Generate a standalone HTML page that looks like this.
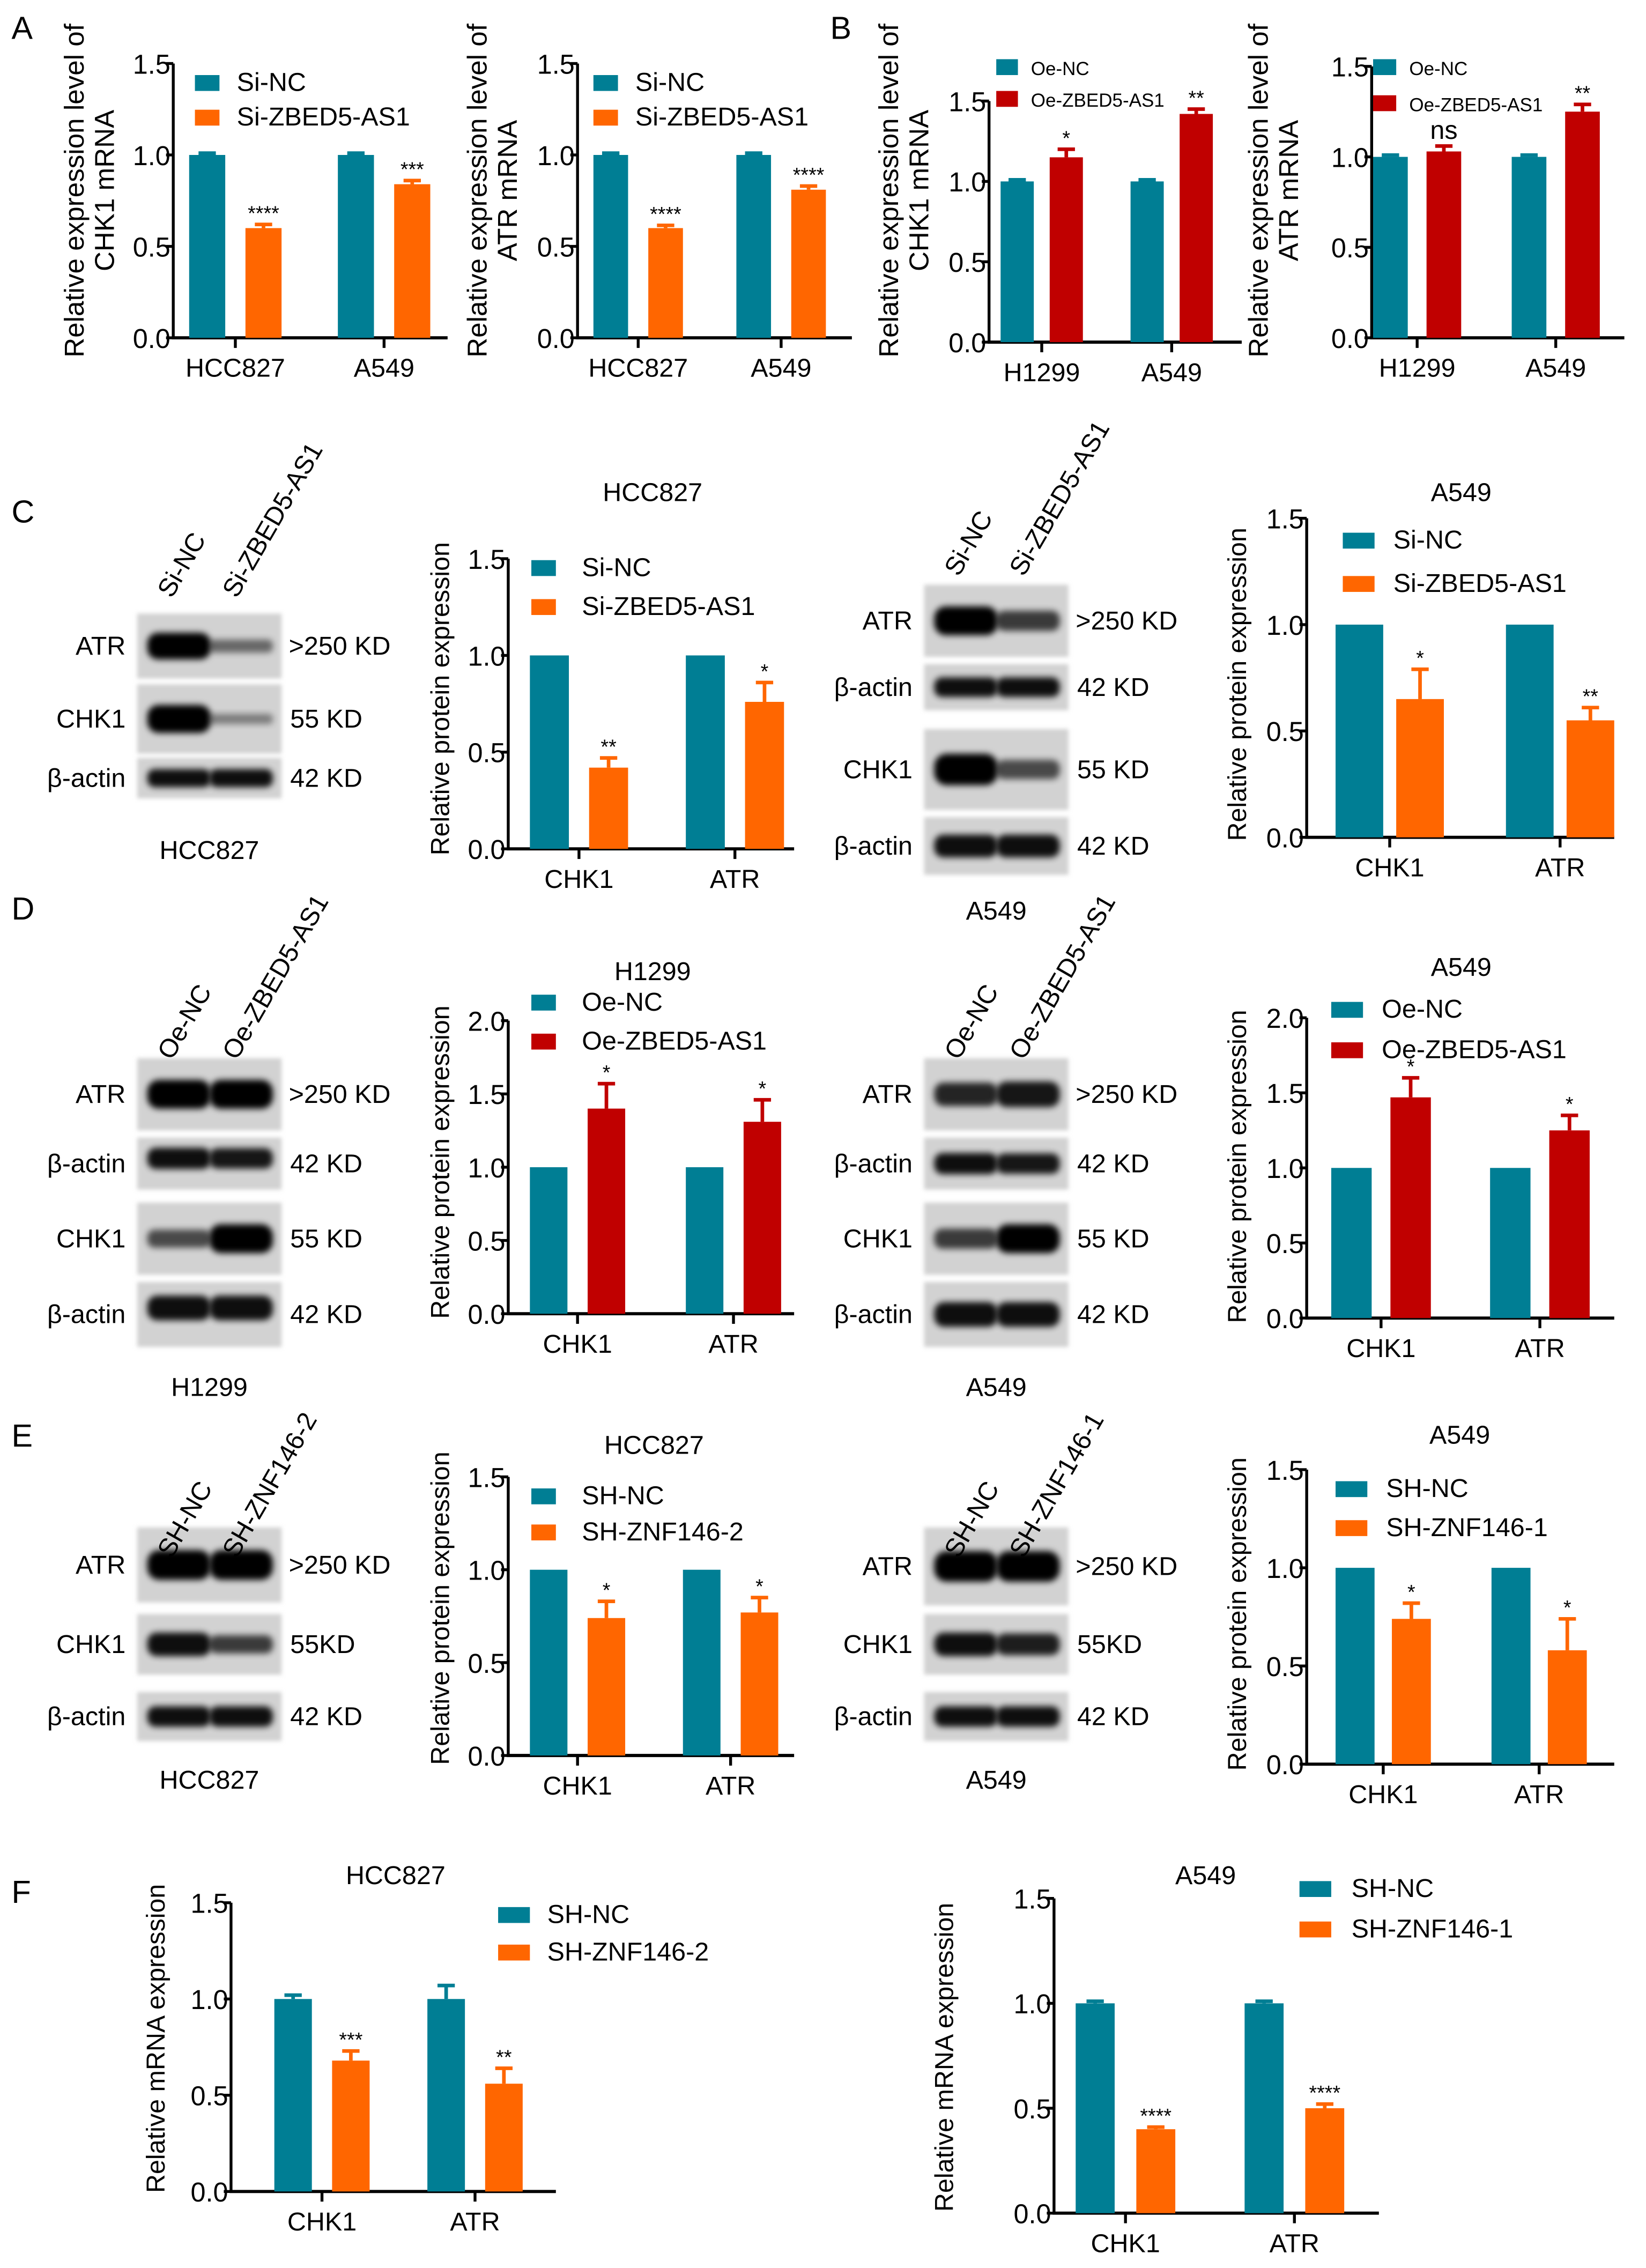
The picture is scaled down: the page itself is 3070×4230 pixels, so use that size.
<!DOCTYPE html>
<html><head><meta charset="utf-8">
<style>
html,body{margin:0;padding:0;background:#fff;}
svg{display:block;font-family:"Liberation Sans",Arial,sans-serif;}
</style></head>
<body>
<svg id="fig" width="3070" height="4230" viewBox="0 0 1140 1571" preserveAspectRatio="none" xmlns="http://www.w3.org/2000/svg">
<defs>
<filter id="bl" x="-20%" y="-50%" width="140%" height="200%"><feGaussianBlur stdDeviation="2.2"/></filter>
<filter id="bl2" x="-10%" y="-10%" width="120%" height="120%"><feGaussianBlur stdDeviation="1.5"/></filter>
</defs>
<g id="static" font-size="18" fill="#000">
<text x="8" y="27" font-size="22">A</text>
<text x="575" y="27" font-size="22">B</text>
<text x="8" y="362" font-size="22">C</text>
<text x="8" y="637" font-size="22">D</text>
<text x="8" y="1002" font-size="22">E</text>
<text x="8" y="1318" font-size="22">F</text>
</g>
<g id="charts"></g>
<g id="blots"></g>
</svg>
<script>
// ===== Chart data =====
const A1_cats=["HCC827","A549"]; const A1_ctrl=[1,1]; const A1_ctrlErr=[0.01,0.01]; const A1_trt=[0.6,0.84]; const A1_trtErr=[0.02,0.02]; const A1_sig=["****","***"]; const A1_ticks=["0.0","0.5","1.0","1.5"];
const A2_cats=["HCC827","A549"]; const A2_ctrl=[1,1]; const A2_ctrlErr=[0.01,0.01]; const A2_trt=[0.6,0.81]; const A2_trtErr=[0.015,0.02]; const A2_sig=["****","****"]; const A2_ticks=["0.0","0.5","1.0","1.5"];
const B1_cats=["H1299","A549"]; const B1_ctrl=[1,1]; const B1_ctrlErr=[0.01,0.01]; const B1_trt=[1.15,1.42]; const B1_trtErr=[0.05,0.03]; const B1_sig=["*","**"]; const B1_ticks=["0.0","0.5","1.0","1.5"];
const B2_cats=["H1299","A549"]; const B2_ctrl=[1,1]; const B2_ctrlErr=[0.01,0.01]; const B2_trt=[1.03,1.25]; const B2_trtErr=[0.03,0.04]; const B2_sig=["ns","**"]; const B2_ticks=["0.0","0.5","1.0","1.5"];
const C1_cats=["CHK1","ATR"]; const C1_ctrl=[1,1]; const C1_ctrlErr=[0,0]; const C1_trt=[0.42,0.76]; const C1_trtErr=[0.05,0.1]; const C1_sig=["**","*"]; const C1_ticks=["0.0","0.5","1.0","1.5"];
const C2_cats=["CHK1","ATR"]; const C2_ctrl=[1,1]; const C2_ctrlErr=[0,0]; const C2_trt=[0.65,0.55]; const C2_trtErr=[0.14,0.06]; const C2_sig=["*","**"]; const C2_ticks=["0.0","0.5","1.0","1.5"];
const D1_cats=["CHK1","ATR"]; const D1_ctrl=[1,1]; const D1_ctrlErr=[0,0]; const D1_trt=[1.4,1.31]; const D1_trtErr=[0.17,0.15]; const D1_sig=["*","*"]; const D1_ticks=["0.0","0.5","1.0","1.5","2.0"];
const D2_cats=["CHK1","ATR"]; const D2_ctrl=[1,1]; const D2_ctrlErr=[0,0]; const D2_trt=[1.47,1.25]; const D2_trtErr=[0.13,0.1]; const D2_sig=["*","*"]; const D2_ticks=["0.0","0.5","1.0","1.5","2.0"];
const E1_cats=["CHK1","ATR"]; const E1_ctrl=[1,1]; const E1_ctrlErr=[0,0]; const E1_trt=[0.74,0.77]; const E1_trtErr=[0.09,0.08]; const E1_sig=["*","*"]; const E1_ticks=["0.0","0.5","1.0","1.5"];
const E2_cats=["CHK1","ATR"]; const E2_ctrl=[1,1]; const E2_ctrlErr=[0,0]; const E2_trt=[0.74,0.58]; const E2_trtErr=[0.08,0.16]; const E2_sig=["*","*"]; const E2_ticks=["0.0","0.5","1.0","1.5"];
const F1_cats=["CHK1","ATR"]; const F1_ctrl=[1,1]; const F1_ctrlErr=[0.02,0.07]; const F1_trt=[0.68,0.56]; const F1_trtErr=[0.05,0.08]; const F1_sig=["***","**"]; const F1_ticks=["0.0","0.5","1.0","1.5"];
const F2_cats=["CHK1","ATR"]; const F2_ctrl=[1,1]; const F2_ctrlErr=[0.01,0.01]; const F2_trt=[0.4,0.5]; const F2_trtErr=[0.01,0.02]; const F2_sig=["****","****"]; const F2_ticks=["0.0","0.5","1.0","1.5"];

const TEAL="#007E94", ORANGE="#FF6600", RED="#C00000";
const NS="http://www.w3.org/2000/svg";
function mk(tag,attrs,parent,txt){const e=document.createElementNS(NS,tag);for(const k in attrs)e.setAttribute(k,attrs[k]);if(txt!==undefined)e.textContent=txt;parent.appendChild(e);return e;}

const chartsG=document.getElementById('charts');

function drawChart(L,cats,ctrl,ctrlErr,trt,trtErr,sig,ticks){
  const g=mk('g',{},chartsG);
  
  
  const maxV=parseFloat(ticks[ticks.length-1]);
  const y=v=>L.yZero-(v/maxV)*(L.yZero-L.yTop);
  const xg=i=>L.g0+i*L.gStep;
  const ya=mk('line',{x1:L.x0,y1:y(maxV),x2:L.x0,y2:L.yZero+1,stroke:'#000','stroke-width':2},g);
  
  
  const xa=mk('line',{x1:L.x0-1,y1:L.yZero,x2:L.xEnd,y2:L.yZero,stroke:'#000','stroke-width':2.2},g);
  
  
  ticks.forEach(t=>{
    const v=parseFloat(t),yy=y(v);
    mk('line',{x1:L.x0-5,y1:yy,x2:L.x0,y2:yy,stroke:'#000','stroke-width':2},g);
    const tl=mk('text',{x:L.x0-2,y:yy+7,'text-anchor':'end','font-size':L.fs||19,'textLength':26,'lengthAdjust':'spacingAndGlyphs'},g,t);
    
    
  });
  cats.forEach((c,i)=>{
    const bx1=xg(i), bx2=bx1+L.bw+L.gap;
    const cx=(bx1+bx2+L.bw)/2;
    mk('line',{x1:cx,y1:L.yZero,x2:cx,y2:L.yZero+7,stroke:'#000','stroke-width':2},g);
    const cl=mk('text',{x:cx,y:L.yZero+27,'text-anchor':'middle','font-size':18},g,c);
    
    
    const b1=mk('rect',{x:bx1,y:y(ctrl[i]),width:L.bw,height:L.yZero-y(ctrl[i]),fill:TEAL},g);
    
    
    if(ctrlErr[i]>0){const ey=y(ctrl[i]+ctrlErr[i]);mk('path',{d:`M${bx1+L.bw/2},${y(ctrl[i])}V${ey}M${bx1+L.bw/2-6},${ey}H${bx1+L.bw/2+6}`,stroke:TEAL,'stroke-width':2.5,fill:'none'},g);}
    const b2=mk('rect',{x:bx2,y:y(trt[i]),width:L.bw,height:L.yZero-y(trt[i]),fill:L.col},g);
    
    
    const ey2=y(trt[i]+trtErr[i]);
    mk('path',{d:`M${bx2+L.bw/2},${y(trt[i])}V${ey2}M${bx2+L.bw/2-6},${ey2}H${bx2+L.bw/2+6}`,stroke:L.col,'stroke-width':2.5,fill:'none'},g);
    const sl=mk('text',{x:bx2+L.bw/2,y:ey2-(sig[i]==='ns'?5:3),'text-anchor':'middle','font-size':sig[i]==='ns'?18:14},g,sig[i]);
    
    
  });
  L.leg.forEach((lt,k)=>{
    const ly=L.legY+k*L.legStep;
    const sw=mk('rect',{x:L.legX,y:ly-5,width:L.legW||17,height:11,fill:k?L.col:TEAL},g);
    
    
    const t=mk('text',{x:L.legX+(L.legW||17)+(L.legTx||14),y:ly+6,'font-size':L.legFs||18},g,lt);
    
    
  });
  const yt=mk('text',{transform:`translate(${L.ylX},${L.ylMid}) rotate(-90)`,'text-anchor':'middle','font-size':L.ylFs||18},g);
  
  
  L.yl.forEach((s,k)=>mk('tspan',{x:0,dy:k?21:0},yt,s));
  if(L.title){const tt=mk('text',{x:L.titleX,y:L.titleY,'text-anchor':'middle','font-size':18},g,L.title);
    
    }
}

const siLeg=["Si-NC","Si-ZBED5-AS1"], oeLeg=["Oe-NC","Oe-ZBED5-AS1"];
drawChart({id:'a-chk1',x0:120,xEnd:310,yZero:234,yTop:44,g0:131,gStep:103,bw:25,gap:14,col:ORANGE,leg:siLeg,legX:135,legY:57,legStep:24,legTx:12,ylX:58,ylMid:132,ylFs:19,yl:["Relative  expression level of","CHK1 mRNA"]},A1_cats,A1_ctrl,A1_ctrlErr,A1_trt,A1_trtErr,A1_sig,A1_ticks);
drawChart({id:'a-atr',x0:400,xEnd:590,yZero:234,yTop:44,g0:411,gStep:99,bw:24,gap:14,col:ORANGE,leg:siLeg,legX:411,legY:57,legStep:24,legTx:12,ylX:337,ylMid:132,ylFs:19,yl:["Relative  expression level of","ATR mRNA"]},A2_cats,A2_ctrl,A2_ctrlErr,A2_trt,A2_trtErr,A2_sig,A2_ticks);
drawChart({id:'b-chk1',x0:685,xEnd:860,yZero:237,yTop:70,g0:693,gStep:90,bw:23,gap:11,col:RED,leg:oeLeg,legX:690,legY:46,legStep:22,legW:15,legTx:9,legFs:13,ylX:622,ylMid:132,ylFs:19,yl:["Relative  expression level of","CHK1 mRNA"]},B1_cats,B1_ctrl,B1_ctrlErr,B1_trt,B1_trtErr,B1_sig,B1_ticks);
drawChart({id:'b-atr',x0:950,xEnd:1125,yZero:234,yTop:46,g0:951,gStep:96,bw:24,gap:13,col:RED,leg:oeLeg,legX:951,legY:46,legStep:25,legW:16,legTx:9,legFs:13,ylX:878,ylMid:132,ylFs:19,yl:["Relative  expression level of","ATR mRNA"]},B2_cats,B2_ctrl,B2_ctrlErr,B2_trt,B2_trtErr,B2_sig,B2_ticks);
drawChart({id:'c-hcc827',x0:352,xEnd:550,yZero:588,yTop:387,g0:367,gStep:108,bw:27,gap:14,col:ORANGE,leg:siLeg,legX:368,legY:393,legStep:27,legTx:18,ylX:311,ylMid:484,yl:["Relative protein expression"],title:'HCC827',titleX:452,titleY:347},C1_cats,C1_ctrl,C1_ctrlErr,C1_trt,C1_trtErr,C1_sig,C1_ticks);
drawChart({id:'c-a549',x0:905,xEnd:1118,yZero:580,yTop:359,g0:925,gStep:118,bw:33,gap:9,col:ORANGE,leg:siLeg,legX:930,legY:374,legStep:30,legW:22,legTx:13,ylX:863,ylMid:474,yl:["Relative protein expression"],title:'A549',titleX:1012,titleY:347},C2_cats,C2_ctrl,C2_ctrlErr,C2_trt,C2_trtErr,C2_sig,C2_ticks);
drawChart({id:'d-h1299',x0:352,xEnd:550,yZero:910,yTop:707,g0:367,gStep:108,bw:26,gap:14,col:RED,leg:oeLeg,legX:368,legY:694,legStep:27,legTx:18,ylX:311,ylMid:805,yl:["Relative protein expression"],title:'H1299',titleX:452,titleY:679},D1_cats,D1_ctrl,D1_ctrlErr,D1_trt,D1_trtErr,D1_sig,D1_ticks);
drawChart({id:'d-a549',x0:905,xEnd:1118,yZero:913,yTop:705,g0:922,gStep:110,bw:28,gap:13,col:RED,leg:oeLeg,legX:922,legY:699,legStep:28,legW:22,legTx:13,ylX:863,ylMid:808,yl:["Relative protein expression"],title:'A549',titleX:1012,titleY:676},D2_cats,D2_ctrl,D2_ctrlErr,D2_trt,D2_trtErr,D2_sig,D2_ticks);
drawChart({id:'e-hcc827',x0:352,xEnd:550,yZero:1216,yTop:1023,g0:367,gStep:106,bw:26,gap:14,col:ORANGE,leg:["SH-NC","SH-ZNF146-2"],legX:368,legY:1036,legStep:25,legTx:18,ylX:311,ylMid:1114,yl:["Relative protein expression"],title:'HCC827',titleX:453,titleY:1007},E1_cats,E1_ctrl,E1_ctrlErr,E1_trt,E1_trtErr,E1_sig,E1_ticks);
drawChart({id:'e-a549',x0:905,xEnd:1118,yZero:1222,yTop:1018,g0:925,gStep:108,bw:27,gap:12,col:ORANGE,leg:["SH-NC","SH-ZNF146-1"],legX:925,legY:1031,legStep:27,legW:22,legTx:13,ylX:863,ylMid:1118,yl:["Relative protein expression"],title:'A549',titleX:1011,titleY:1000},E2_cats,E2_ctrl,E2_ctrlErr,E2_trt,E2_trtErr,E2_sig,E2_ticks);
drawChart({id:'f-hcc827',x0:160,xEnd:385,yZero:1518,yTop:1318,g0:190,gStep:106,bw:26,gap:14,col:ORANGE,leg:["SH-NC","SH-ZNF146-2"],legX:345,legY:1326,legStep:26,legW:22,legTx:12,ylX:114,ylMid:1412,yl:["Relative mRNA expression"],title:'HCC827',titleX:274,titleY:1305},F1_cats,F1_ctrl,F1_ctrlErr,F1_trt,F1_trtErr,F1_sig,F1_ticks);
drawChart({id:'f-a549',x0:730,xEnd:955,yZero:1533,yTop:1315,g0:745,gStep:117,bw:27,gap:15,col:ORANGE,leg:["SH-NC","SH-ZNF146-1"],legX:900,legY:1308,legStep:28,legW:22,legTx:14,ylX:660,ylMid:1425,yl:["Relative mRNA expression"],title:'A549',titleX:835,titleY:1305},F2_cats,F2_ctrl,F2_ctrlErr,F2_trt,F2_trtErr,F2_sig,F2_ticks);

// ===== Western blots =====
const blotsG=document.getElementById('blots');
function blot(id,x,w,lanes,rows,labelBelow,labelY,laneLabels,laneY){
  const g=mk('g',{},blotsG);
  
  
  rows.forEach(r=>{
    mk('rect',{x:x,y:r.y,width:w,height:r.h,fill:r.bg||'#d2d2d2',filter:'url(#bl2)'},g);
    r.b.forEach((s,k)=>{
      if(s<=0)return;
      const cx=x+w*(k?0.72:0.29);
      const bh=r.h*0.3*s+5;
      const bw=w*0.44;
      mk('rect',{x:cx-bw/2,y:r.y+r.h*(r.by||0.5)-bh/2,width:bw,height:bh,rx:bh/2.5,fill:'#000',opacity:Math.min(1,0.3+s*0.7),filter:'url(#bl)'},g);
    });
    const nl=mk('text',{x:x-8,y:r.y+r.h/2+6,'text-anchor':'end','font-size':18},g,r.name);
    
    
    const kd=mk('text',{x:x+w+(r.kd[0]==='>'?5:6),y:r.y+r.h/2+6,'font-size':18},g,r.kd);
    
    
  });
  laneLabels.forEach((t,k)=>{
    const lx=x+w*(k?0.73:0.28)-4;
    const ll=mk('text',{transform:`translate(${lx},${laneY}) rotate(-60)`,'font-size':18},g,t);
    
    
  });
  const bl=mk('text',{x:x+w/2,y:labelY,'text-anchor':'middle','font-size':18},g,labelBelow);
  
  
}
const BA='β-actin';
blot('blot-c-hcc827',95,100,2,[
 {name:'ATR',y:425,h:45,b:[1,0.3],kd:'>250 KD'},
 {name:'CHK1',y:474,h:48,b:[1,0.15],kd:'55 KD'},
 {name:BA,y:525,h:28,b:[0.9,0.9],kd:'42 KD'}],'HCC827',595,['Si-NC','Si-ZBED5-AS1'],415);
blot('blot-c-a549',640,100,2,[
 {name:'ATR',y:405,h:50,b:[1,0.6],kd:'>250 KD'},
 {name:BA,y:460,h:32,b:[0.9,0.9],kd:'42 KD'},
 {name:'CHK1',y:505,h:56,b:[1,0.5],kd:'55 KD'},
 {name:BA,y:566,h:40,b:[0.9,0.9],kd:'42 KD'}],'A549',637,['Si-NC','Si-ZBED5-AS1'],400);
blot('blot-d-h1299',95,100,2,[
 {name:'ATR',y:733,h:50,b:[1,1],kd:'>250 KD'},
 {name:BA,y:788,h:36,b:[0.9,0.85],kd:'42 KD',by:0.4},
 {name:'CHK1',y:833,h:50,b:[0.5,1],kd:'55 KD'},
 {name:BA,y:888,h:45,b:[0.9,0.9],kd:'42 KD',by:0.4}],'H1299',967,['Oe-NC','Oe-ZBED5-AS1'],735);
blot('blot-d-a549',640,100,2,[
 {name:'ATR',y:733,h:50,b:[0.75,0.85],kd:'>250 KD'},
 {name:BA,y:788,h:36,b:[0.9,0.85],kd:'42 KD'},
 {name:'CHK1',y:833,h:50,b:[0.6,1],kd:'55 KD'},
 {name:BA,y:888,h:45,b:[0.9,0.9],kd:'42 KD'}],'A549',967,['Oe-NC','Oe-ZBED5-AS1'],735);
blot('blot-e-hcc827',95,100,2,[
 {name:'ATR',y:1058,h:52,b:[1,1],kd:'>250 KD'},
 {name:'CHK1',y:1118,h:42,b:[0.9,0.6],kd:'55KD'},
 {name:BA,y:1172,h:34,b:[0.9,0.9],kd:'42 KD'}],'HCC827',1239,['SH-NC','SH-ZNF146-2'],1080);
blot('blot-e-a549',640,100,2,[
 {name:'ATR',y:1058,h:54,b:[1,1],kd:'>250 KD'},
 {name:'CHK1',y:1118,h:42,b:[0.9,0.8],kd:'55KD'},
 {name:BA,y:1172,h:34,b:[0.9,0.9],kd:'42 KD'}],'A549',1239,['SH-NC','SH-ZNF146-1'],1080);
</script>
</body></html>
